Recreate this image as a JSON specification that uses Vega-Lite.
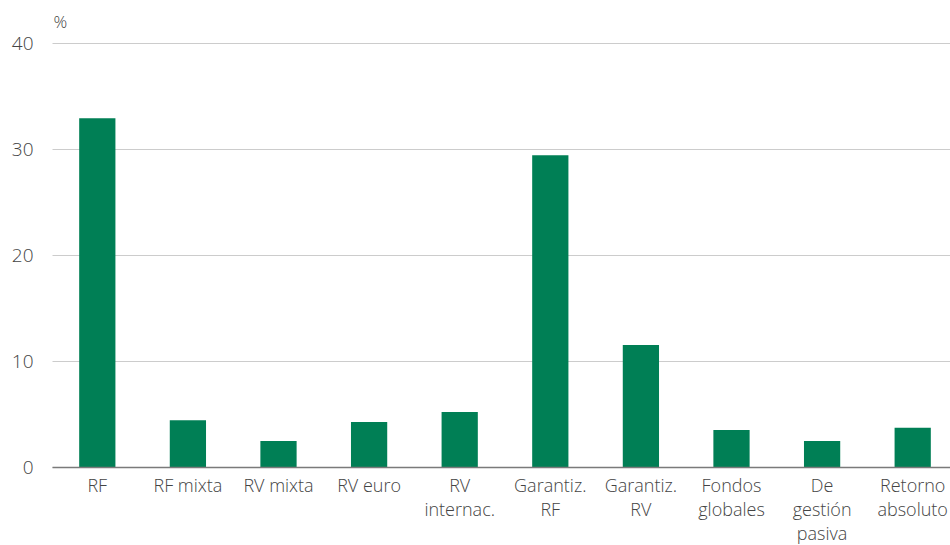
{
  "$schema": "https://vega.github.io/schema/vega-lite/v6.json",
  "autosize": {"type": "none"},
  "width": 898,
  "height": 424,
  "padding": {"left": 52, "top": 43, "right": 0, "bottom": 78},
  "background": "white",
  "config": {"view": {"stroke": null}, "font": "Open Sans"},
  "data": {"values": [
    {"cat": "RF", "v": 32.9},
    {"cat": "RF mixta", "v": 4.4},
    {"cat": "RV mixta", "v": 2.45},
    {"cat": "RV euro", "v": 4.25},
    {"cat": "RV|internac.", "v": 5.2},
    {"cat": "Garantiz.|RF", "v": 29.4},
    {"cat": "Garantiz.|RV", "v": 11.5},
    {"cat": "Fondos|globales", "v": 3.5},
    {"cat": "De|gestión|pasiva", "v": 2.45},
    {"cat": "Retorno|absoluto", "v": 3.7}
  ]},
  "mark": {"type": "bar", "color": "#007f55"},
  "encoding": {
    "x": {"field": "cat", "type": "nominal", "sort": null,
      "scale": {"range": [0, 906], "paddingInner": 0.6, "paddingOuter": 0.3},
      "axis": {"title": null, "labelAngle": 0, "labelExpr": "split(datum.label, '|')",
        "labelFontSize": 18, "labelColor": "#444444", "labelLineHeight": 24, "labelPadding": 10,
        "labelFontWeight": 300,
        "ticks": false, "domainColor": "#7a7a7a", "domainWidth": 1.5, "zindex": 1}},
    "y": {"field": "v", "type": "quantitative",
      "scale": {"domain": [0, 40], "nice": false},
      "axis": {"title": "%", "titleAngle": 0, "titleAlign": "left", "titleBaseline": "alphabetic", "titleX": 1, "titleY": -16,
        "titleFontSize": 17, "titleFontWeight": 300, "titleColor": "#444444",
        "values": [0, 10, 20, 30, 40], "labelFontSize": 19, "labelColor": "#444444", "labelPadding": 19,
        "labelFontWeight": 300,
        "ticks": false, "domain": false, "gridColor": "#cccccc", "gridWidth": 1}}
  }
}
